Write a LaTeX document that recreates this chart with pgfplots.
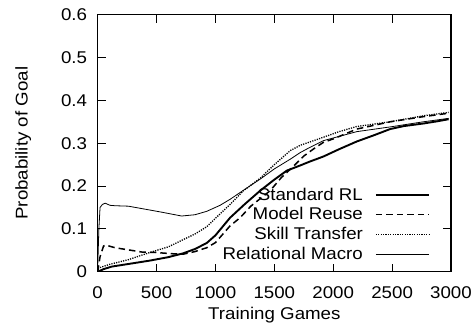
\documentclass[border=0pt]{standalone}
\usepackage{pgfplots}
\pgfplotsset{compat=1.18}
\usepackage{fontspec}
\setmainfont{Liberation Sans}[FakeStretch=1.1]
\begin{document}
\begin{tikzpicture}
\useasboundingbox (-97.7pt,-58.3pt) rectangle (375.3pt,271.7pt);
\begin{axis}[
  at={(0pt,0pt)}, anchor=south west,
  scale only axis, width=353.3pt, height=257pt,
  xmin=0, xmax=3000, ymin=0, ymax=0.6,
  xtick={0,500,...,3000}, ytick={0,0.1,0.2,0.3,0.4,0.5,0.6},
  scaled ticks=false,
  /pgf/number format/assume math mode=true,
  /pgf/number format/1000 sep={},
  yticklabel style={/pgf/number format/fixed,/pgf/number format/precision=1},
  font=\fontsize{17}{20}\selectfont,
  tick label style={font=\fontsize{17}{20}\selectfont},
  x tick label style={inner sep=0pt, anchor=base, yshift=-26.5pt},
  y tick label style={inner sep=0pt, anchor=east, xshift=-10.5pt},
  tick align=inside, major tick length=8pt,
  tick style={line width=1pt, black},
  axis line style={line width=1.5pt},
  xlabel={Training Games}, ylabel={Probability of Goal},
  every axis x label/.style={at={(axis description cs:0.5,0)}, anchor=base, yshift=-48pt},
  every axis y label/.style={at={(axis description cs:-0.211,0.5)}, rotate=90, anchor=center},
  legend plot pos=right,
  legend cell align=right,
  legend style={draw=none, fill=none, at={(1,0)}, anchor=south east, xshift=-21pt, yshift=9.5pt,
    font=\fontsize{17}{20}\selectfont, row sep=4pt, inner sep=0pt,
    nodes={inner sep=1pt},
    /tikz/every odd column/.append style={column sep=11pt}},
  legend image code/.code={\draw[#1] (0pt,0pt) -- (53pt,0pt);},
]
\addplot[black, line width=1.9pt] coordinates {
(0,0) (50,0.006) (120,0.012) (260,0.018) (444,0.026) (600,0.034) (727,0.043) (826,0.053)
(926,0.067) (1000,0.085) (1124,0.126) (1250,0.158) (1379,0.189) (1500,0.215) (1606,0.236)
(1719,0.248) (1800,0.257) (1917,0.269) (2050,0.286) (2200,0.304) (2350,0.319) (2483,0.333)
(2600,0.340) (2766,0.346) (2880,0.351) (2980,0.356)
};
\addlegendentry{Standard RL}
\addplot[black, line width=1.5pt, dash pattern=on 6.5pt off 4pt] coordinates {
(0,0) (20,0.035) (50,0.06) (70,0.062) (147,0.056) (260,0.051) (373,0.046) (487,0.045)
(628,0.042) (727,0.041) (826,0.047) (926,0.056) (1000,0.068) (1124,0.107) (1209,0.126)
(1300,0.153) (1464,0.189) (1560,0.22) (1662,0.246) (1750,0.27) (1850,0.29) (1917,0.302)
(2000,0.31) (2200,0.333) (2483,0.35) (2766,0.362) (2980,0.37)
};
\addlegendentry{Model Reuse}
\addplot[black, line width=1.3pt, dash pattern=on 1.2pt off 1.2pt] coordinates {
(0,0.008) (100,0.017) (260,0.028) (444,0.045) (600,0.058) (727,0.075) (826,0.088)
(926,0.105) (1039,0.135) (1124,0.157) (1237,0.189) (1379,0.218) (1500,0.25) (1637,0.283)
(1719,0.295) (1917,0.314) (2050,0.327) (2200,0.339) (2483,0.35) (2766,0.364) (2980,0.372)
};
\addlegendentry{Skill Transfer}
\addplot[black, line width=0.8pt] coordinates {
(0,0.01) (10,0.1) (20,0.15) (40,0.157) (63,0.16) (104,0.155) (150,0.154) (260,0.153)
(402,0.146) (543,0.139) (713,0.13) (826,0.133) (926,0.141) (1039,0.155) (1124,0.169)
(1237,0.19) (1379,0.216) (1500,0.24) (1637,0.263) (1719,0.278) (1800,0.29) (1917,0.306)
(2200,0.327) (2483,0.338) (2766,0.35) (2980,0.358)
};
\addlegendentry{Relational Macro}
\end{axis}
\end{tikzpicture}
\end{document}
